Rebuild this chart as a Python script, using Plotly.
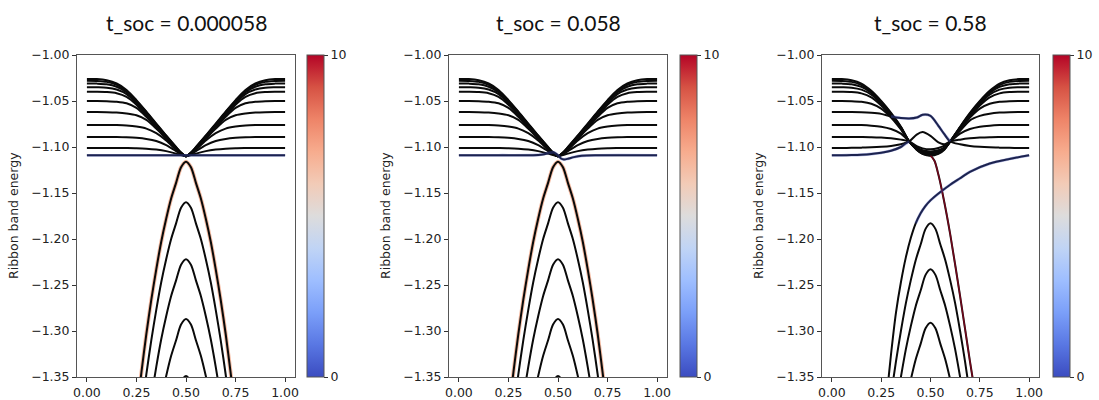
import plotly.graph_objects as go
from plotly.colors import sample_colorscale

# ---------------- text ----------------
TITLES = ["t_soc = 0.000058", "t_soc = 0.058", "t_soc = 0.58"]
Y_LABEL = "Ribbon band energy"
X_TICKS = [0.0, 0.25, 0.5, 0.75, 1.0]
X_TICK_TEXT = ["0.00", "0.25", "0.50", "0.75", "1.00"]
Y_TICKS = [-1.00, -1.05, -1.10, -1.15, -1.20, -1.25, -1.30, -1.35]
Y_TICK_TEXT = ["\u22121.00", "\u22121.05", "\u22121.10", "\u22121.15",
               "\u22121.20", "\u22121.25", "\u22121.30", "\u22121.35"]
CB_TICKS = [0, 10]
CB_TICK_TEXT = ["0", "10"]
COOLWARM = ["#3b4cc0", "#5977e3", "#7b9ff9", "#9ebeff", "#c0d4f5", "#dddcdc",
            "#f2cbb7", "#f7ac8e", "#ee8468", "#d65244", "#b40426"]

# ---------------- panels 1 & 2 : upper (conduction-like) bands ----------------
K_UP = [0.00, 0.05, 0.10, 0.15, 0.20, 0.25, 0.30, 0.35, 0.40, 0.45, 0.475, 0.50,
        0.525, 0.55, 0.60, 0.65, 0.70, 0.75, 0.80, 0.85, 0.90, 0.95, 1.00]
UP_B1 = [-1.0260, -1.0262, -1.0275, -1.0310, -1.0380, -1.0490, -1.0615, -1.0745, -1.0875, -1.1000, -1.1060, -1.1100,
         -1.1060, -1.1000, -1.0875, -1.0745, -1.0615, -1.0490, -1.0380, -1.0310, -1.0275, -1.0262, -1.0260]
UP_B2 = [-1.0280, -1.0282, -1.0292, -1.0325, -1.0392, -1.0500, -1.0622, -1.0752, -1.0880, -1.1004, -1.1062, -1.1100,
         -1.1062, -1.1004, -1.0880, -1.0752, -1.0622, -1.0500, -1.0392, -1.0325, -1.0292, -1.0282, -1.0280]
UP_B3 = [-1.0310, -1.0311, -1.0318, -1.0345, -1.0405, -1.0510, -1.0630, -1.0758, -1.0885, -1.1008, -1.1064, -1.1100,
         -1.1064, -1.1008, -1.0885, -1.0758, -1.0630, -1.0510, -1.0405, -1.0345, -1.0318, -1.0311, -1.0310]
UP_B4 = [-1.0350, -1.0351, -1.0355, -1.0375, -1.0425, -1.0522, -1.0640, -1.0765, -1.0890, -1.1012, -1.1066, -1.1100,
         -1.1066, -1.1012, -1.0890, -1.0765, -1.0640, -1.0522, -1.0425, -1.0375, -1.0355, -1.0351, -1.0350]
UP_B5 = [-1.0400, -1.0400, -1.0403, -1.0415, -1.0455, -1.0540, -1.0652, -1.0773, -1.0896, -1.1016, -1.1068, -1.1100,
         -1.1068, -1.1016, -1.0896, -1.0773, -1.0652, -1.0540, -1.0455, -1.0415, -1.0403, -1.0400, -1.0400]
UP_B6 = [-1.0500, -1.0500, -1.0502, -1.0508, -1.0525, -1.0575, -1.0672, -1.0785, -1.0903, -1.1020, -1.1070, -1.1100,
         -1.1070, -1.1020, -1.0903, -1.0785, -1.0672, -1.0575, -1.0525, -1.0508, -1.0502, -1.0500, -1.0500]
UP_B7 = [-1.0620, -1.0620, -1.0621, -1.0625, -1.0635, -1.0655, -1.0705, -1.0800, -1.0912, -1.1025, -1.1073, -1.1100,
         -1.1073, -1.1025, -1.0912, -1.0800, -1.0705, -1.0655, -1.0635, -1.0625, -1.0621, -1.0620, -1.0620]
UP_B8 = [-1.0760, -1.0760, -1.0760, -1.0762, -1.0767, -1.0778, -1.0800, -1.0850, -1.0930, -1.1032, -1.1076, -1.1100,
         -1.1076, -1.1032, -1.0930, -1.0850, -1.0800, -1.0778, -1.0767, -1.0762, -1.0760, -1.0760, -1.0760]
UP_B9 = [-1.0890, -1.0890, -1.0890, -1.0891, -1.0894, -1.0900, -1.0912, -1.0935, -1.0980, -1.1045, -1.1080, -1.1100,
         -1.1080, -1.1045, -1.0980, -1.0935, -1.0912, -1.0900, -1.0894, -1.0891, -1.0890, -1.0890, -1.0890]
UP_B10 = [-1.1010, -1.1010, -1.1010, -1.1010, -1.1011, -1.1013, -1.1018, -1.1028, -1.1045, -1.1072, -1.1088, -1.1100,
          -1.1088, -1.1072, -1.1045, -1.1028, -1.1018, -1.1013, -1.1011, -1.1010, -1.1010, -1.1010, -1.1010]
UP_BANDS_P12 = [UP_B1, UP_B2, UP_B3, UP_B4, UP_B5, UP_B6, UP_B7, UP_B8, UP_B9, UP_B10]

# flat edge state (panel 1) and perturbed edge state (panel 2)
K_EDGE1 = [0.0, 1.0]
E_EDGE1 = [-1.1090, -1.1090]
K_EDGE2 = [0.0, 0.2, 0.4, 0.43, 0.46, 0.48, 0.50, 0.515, 0.53, 0.55, 0.58, 0.62, 0.70, 1.0]
E_EDGE2 = [-1.1090, -1.1090, -1.1087, -1.1078, -1.1062, -1.1058, -1.1090, -1.1125, -1.1135, -1.1128,
           -1.1110, -1.1095, -1.1090, -1.1090]

# ---------------- panels 1 & 2 : lower (valence-like) bands ----------------
K_LO = [0.25, 0.275, 0.30, 0.325, 0.35, 0.375, 0.40, 0.425, 0.45, 0.475, 0.50,
        0.525, 0.55, 0.575, 0.60, 0.625, 0.65, 0.675, 0.70, 0.725, 0.75]
LO_B1 = [-1.390, -1.345, -1.303, -1.266, -1.233, -1.203, -1.178, -1.156, -1.139, -1.122, -1.116,
         -1.122, -1.139, -1.156, -1.178, -1.203, -1.233, -1.266, -1.303, -1.345, -1.390]
LO_B2 = [-1.434, -1.389, -1.347, -1.310, -1.277, -1.247, -1.222, -1.200, -1.183, -1.166, -1.160,
         -1.166, -1.183, -1.200, -1.222, -1.247, -1.277, -1.310, -1.347, -1.389, -1.434]
LO_B3 = [-1.496, -1.451, -1.409, -1.372, -1.339, -1.309, -1.284, -1.262, -1.245, -1.228, -1.222,
         -1.228, -1.245, -1.262, -1.284, -1.309, -1.339, -1.372, -1.409, -1.451, -1.496]
LO_B4 = [-1.561, -1.516, -1.474, -1.437, -1.404, -1.374, -1.349, -1.327, -1.310, -1.293, -1.287,
         -1.293, -1.310, -1.327, -1.349, -1.374, -1.404, -1.437, -1.474, -1.516, -1.561]
LO_B5 = [-1.623, -1.578, -1.536, -1.499, -1.466, -1.436, -1.411, -1.389, -1.372, -1.355, -1.349,
         -1.355, -1.372, -1.389, -1.411, -1.436, -1.466, -1.499, -1.536, -1.578, -1.623]
LO_BANDS_P12 = [LO_B1, LO_B2, LO_B3, LO_B4, LO_B5]

# ---------------- panel 3 ----------------
K3 = [0.00, 0.05, 0.10, 0.15, 0.20, 0.25, 0.30, 0.35, 0.392, 0.43, 0.46, 0.50,
      0.54, 0.57, 0.60, 0.65, 0.70, 0.75, 0.80, 0.85, 0.90, 0.95, 1.00]
P3_A = [-1.0260, -1.0262, -1.0275, -1.0312, -1.0390, -1.0500, -1.0630, -1.0780, -1.0940, -1.1030, -1.1075, -1.1095,
        -1.1075, -1.1030, -1.0940, -1.0780, -1.0630, -1.0500, -1.0390, -1.0312, -1.0275, -1.0262, -1.0260]
P3_B = [-1.0280, -1.0282, -1.0292, -1.0327, -1.0400, -1.0508, -1.0636, -1.0784, -1.0940, -1.1026, -1.1069, -1.1088,
        -1.1069, -1.1026, -1.0940, -1.0784, -1.0636, -1.0508, -1.0400, -1.0327, -1.0292, -1.0282, -1.0280]
P3_C = [-1.0310, -1.0311, -1.0318, -1.0347, -1.0413, -1.0518, -1.0643, -1.0788, -1.0940, -1.1022, -1.1062, -1.1080,
        -1.1062, -1.1022, -1.0940, -1.0788, -1.0643, -1.0518, -1.0413, -1.0347, -1.0318, -1.0311, -1.0310]
P3_D = [-1.0350, -1.0351, -1.0355, -1.0377, -1.0432, -1.0530, -1.0652, -1.0793, -1.0940, -1.1018, -1.1055, -1.1072,
        -1.1055, -1.1018, -1.0940, -1.0793, -1.0652, -1.0530, -1.0432, -1.0377, -1.0355, -1.0351, -1.0350]
P3_E = [-1.0400, -1.0400, -1.0403, -1.0417, -1.0460, -1.0548, -1.0663, -1.0800, -1.0940, -1.1014, -1.1049, -1.1064,
        -1.1049, -1.1014, -1.0940, -1.0800, -1.0663, -1.0548, -1.0460, -1.0417, -1.0403, -1.0400, -1.0400]
P3_F = [-1.0500, -1.0500, -1.0502, -1.0509, -1.0530, -1.0583, -1.0680, -1.0810, -1.0940, -1.1010, -1.1042, -1.1056,
        -1.1042, -1.1010, -1.0940, -1.0810, -1.0680, -1.0583, -1.0530, -1.0509, -1.0502, -1.0500, -1.0500]
P3_G = [-1.0760, -1.0760, -1.0760, -1.0762, -1.0768, -1.0780, -1.0805, -1.0855, -1.0940, -1.1006, -1.1036, -1.1048,
        -1.1036, -1.1006, -1.0940, -1.0825, -1.0710, -1.0662, -1.0638, -1.0626, -1.0621, -1.0620, -1.0620]
P3_H = [-1.0890, -1.0890, -1.0890, -1.0891, -1.0893, -1.0898, -1.0906, -1.0920, -1.0940, -1.0990, -1.1015, -1.1025,
        -1.1010, -1.0985, -1.0940, -1.0855, -1.0805, -1.0780, -1.0768, -1.0762, -1.0760, -1.0760, -1.0760]
P3_I = [-1.1010, -1.1010, -1.1009, -1.1007, -1.1004, -1.0998, -1.0988, -1.0970, -1.0940, -1.0865, -1.0838, -1.0880,
        -1.0950, -1.0970, -1.0940, -1.0920, -1.0906, -1.0898, -1.0893, -1.0891, -1.0890, -1.0890, -1.0890]
P3_K = [-1.0620, -1.0620, -1.0620, -1.0622, -1.0628, -1.0640, -1.0668, -1.0685, -1.0690, -1.0680, -1.0650, -1.0662,
        -1.0770, -1.0860, -1.0940, -1.0970, -1.0988, -1.0998, -1.1004, -1.1007, -1.1009, -1.1010, -1.1010]
UP_BANDS_P3 = [P3_A, P3_B, P3_C, P3_D, P3_E, P3_F, P3_G, P3_H, P3_I, P3_K]

# edge band: flat on the left, through the crossing, then diving down (red)
K_P3_RED = [0.00, 0.05, 0.10, 0.15, 0.20, 0.25, 0.30, 0.35, 0.392, 0.43, 0.46, 0.50,
            0.52, 0.54, 0.57, 0.60, 0.65, 0.70, 0.75]
E_P3_RED = [-1.1090, -1.1090, -1.1088, -1.1084, -1.1076, -1.1063, -1.1040, -1.1000, -1.0940, -1.1030, -1.1075,
            -1.1095, -1.1150, -1.1300, -1.1600, -1.1950, -1.2620, -1.3330, -1.4000]
# edge band rising from the valence side (blue)
K_P3_BLUE = [0.25, 0.288, 0.30, 0.325, 0.35, 0.375, 0.40, 0.425, 0.45, 0.475, 0.50,
             0.55, 0.60, 0.65, 0.70, 0.80, 0.90, 1.00]
E_P3_BLUE = [-1.434, -1.350, -1.325, -1.280, -1.247, -1.220, -1.199, -1.183, -1.172, -1.164, -1.158,
             -1.149, -1.141, -1.134, -1.127, -1.118, -1.113, -1.109]

P3_LO_1 = [-1.457, -1.412, -1.370, -1.333, -1.300, -1.270, -1.245, -1.223, -1.206, -1.189, -1.183,
           -1.189, -1.206, -1.223, -1.245, -1.270, -1.300, -1.333, -1.370, -1.412, -1.457]
P3_LO_2 = [-1.507, -1.462, -1.420, -1.383, -1.350, -1.320, -1.295, -1.273, -1.256, -1.239, -1.233,
           -1.239, -1.256, -1.273, -1.295, -1.320, -1.350, -1.383, -1.420, -1.462, -1.507]
P3_LO_3 = [-1.565, -1.520, -1.478, -1.441, -1.408, -1.378, -1.353, -1.331, -1.314, -1.297, -1.291,
           -1.297, -1.314, -1.331, -1.353, -1.378, -1.408, -1.441, -1.478, -1.520, -1.565]
LO_BANDS_P3 = [P3_LO_1, P3_LO_2, P3_LO_3]

# edge-state weights (colour scale 0..10): (k, E, first index, last index, weight)
EDGE_HIGHLIGHTS = [
    [(K_EDGE1, E_EDGE1, 0, 2, 0.0), (K_LO, LO_B1, 0, 21, 6.5)],
    [(K_EDGE2, E_EDGE2, 0, 14, 0.0), (K_LO, LO_B1, 0, 21, 6.5)],
    [(K3, P3_K, 6, 15, 0.0), (K_P3_RED, E_P3_RED, 0, 9, 0.0),
     (K_P3_RED, E_P3_RED, 11, 19, 10.0), (K_P3_BLUE, E_P3_BLUE, 7, 18, 0.0)],
]

PANELS = [
    dict(up=[(K_UP, b) for b in UP_BANDS_P12] + [(K_EDGE1, E_EDGE1)],
         lo=[(K_LO, b) for b in LO_BANDS_P12]),
    dict(up=[(K_UP, b) for b in UP_BANDS_P12] + [(K_EDGE2, E_EDGE2)],
         lo=[(K_LO, b) for b in LO_BANDS_P12]),
    dict(up=[(K3, b) for b in UP_BANDS_P3] + [(K_P3_RED, E_P3_RED)],
         lo=[(K_LO, b) for b in LO_BANDS_P3] + [(K_P3_BLUE, E_P3_BLUE)]),
]

# ---------------- layout geometry (pixels in a 1099x400 page) ----------------
W, H = 1099, 400
PLOT_X = [(77, 295), (449, 667), (822, 1039)]
CBAR_X = [307, 680, 1053]
PLOT_TOP, PLOT_BOT = 55, 377

colorscale = [[i / (len(COOLWARM) - 1), c] for i, c in enumerate(COOLWARM)]


def wcolor(w):
    return sample_colorscale(colorscale, [w / 10.0])[0]


fig = go.Figure()
BLACK = "#0a0a0a"
FONT = "DejaVu Sans"

for p in range(3):
    xa = "x" if p == 0 else f"x{p + 1}"
    ya = "y" if p == 0 else f"y{p + 1}"
    hl = EDGE_HIGHLIGHTS[p]

    def line(xs, ys, color, width, opacity=1.0):
        fig.add_trace(go.Scatter(
            x=xs, y=ys, mode="lines", xaxis=xa, yaxis=ya, opacity=opacity,
            line=dict(color=color, width=width, shape="spline", smoothing=0.8),
            showlegend=False, hoverinfo="skip"))

    # warm-coloured highlights sit under the black band line
    for (ks, es, i0, i1, w) in hl:
        if 3 < w < 9:
            line(ks[i0:i1], es[i0:i1], wcolor(w), 3.9)
    for ks, es in PANELS[p]["lo"] + PANELS[p]["up"]:
        line(ks, es, BLACK, 2.0)
    for (ks, es, i0, i1, w) in hl:
        if w <= 3:
            line(ks[i0:i1], es[i0:i1], wcolor(w), 2.8, 0.38)
        elif w >= 9:
            line(ks[i0:i1], es[i0:i1], wcolor(w), 1.5, 0.6)

    # colour bar carrier (invisible markers on the edge-state points)
    ks, es, i0, i1, w = hl[-1]
    fig.add_trace(go.Scatter(
        x=ks[i0:i1], y=es[i0:i1], mode="markers", xaxis=xa, yaxis=ya,
        marker=dict(color=[w] * (i1 - i0), coloraxis=f"coloraxis{'' if p == 0 else p + 1}",
                    size=1, opacity=0),
        showlegend=False, hoverinfo="skip"))

layout = dict(
    width=W, height=H, margin=dict(l=0, r=0, t=0, b=0, autoexpand=False),
    paper_bgcolor="white", plot_bgcolor="white", showlegend=False,
    font=dict(family=FONT, size=12.5, color="#222"),
)
annotations = []
ydom = [1 - PLOT_BOT / H, 1 - PLOT_TOP / H]
for p in range(3):
    sfx = "" if p == 0 else str(p + 1)
    x0, x1 = PLOT_X[p]
    layout["xaxis" + sfx] = dict(
        domain=[x0 / W, x1 / W], range=[-0.05, 1.05], anchor="y" + sfx,
        tickvals=X_TICKS, ticktext=X_TICK_TEXT, ticks="outside", ticklen=4,
        tickwidth=1, tickcolor="#333", showline=True, linecolor="#555", linewidth=1,
        mirror=True, showgrid=False, zeroline=False, automargin=False,
        tickfont=dict(family=FONT, size=12.5, color="#222"))
    layout["yaxis" + sfx] = dict(
        domain=ydom, range=[-1.35, -1.00], anchor="x" + sfx,
        tickvals=Y_TICKS, ticktext=Y_TICK_TEXT, ticks="outside", ticklen=4,
        tickwidth=1, tickcolor="#333", showline=True, linecolor="#555", linewidth=1,
        mirror=True, showgrid=False, zeroline=False, automargin=False,
        tickfont=dict(family=FONT, size=12.5, color="#222"))
    layout["coloraxis" + sfx] = dict(
        colorscale=colorscale, cmin=0, cmax=10,
        colorbar=dict(
            x=CBAR_X[p] / W, xanchor="left", xpad=0, ypad=0,
            y=(ydom[0] + ydom[1]) / 2, yanchor="middle",
            len=ydom[1] - ydom[0], lenmode="fraction", thickness=17,
            outlinewidth=1, outlinecolor="#555",
            tickvals=CB_TICKS, ticktext=CB_TICK_TEXT, ticks="outside", ticklen=4,
            tickcolor="#333", tickfont=dict(family=FONT, size=12.5, color="#222")))
    annotations.append(dict(
        text=TITLES[p], x=(x0 + x1) / 2 / W, y=1 - 22 / H, xref="paper", yref="paper",
        xanchor="center", yanchor="middle", showarrow=False,
        font=dict(family="Lato", size=21, color="#111")))
    annotations.append(dict(
        text=Y_LABEL, x=(x0 - 64) / W, y=(ydom[0] + ydom[1]) / 2, xref="paper", yref="paper",
        xanchor="center", yanchor="middle", textangle=-90, showarrow=False,
        font=dict(family=FONT, size=12.5, color="#222")))
layout["annotations"] = annotations
fig.update_layout(**layout)

fig.write_html("out.html", config={"displayModeBar": False},
               post_script="document.body.style.margin='0px';document.body.style.padding='0px';")
